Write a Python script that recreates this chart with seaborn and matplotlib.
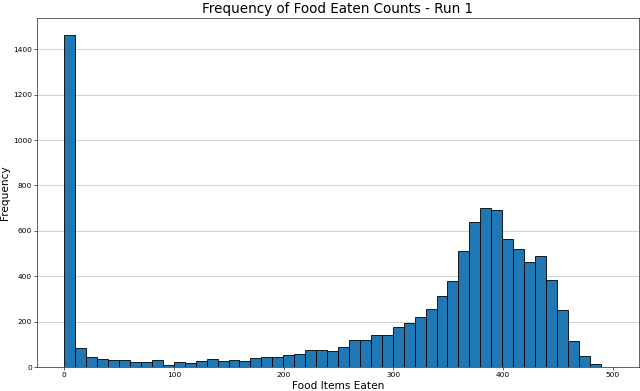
import numpy as np
import pandas as pd
import matplotlib
matplotlib.use("Agg")
import matplotlib.pyplot as plt
import seaborn as sns

# Histogram counts per bin (50 equal-width bins from 0 to ~499)
bin_min = 0.0
bin_max = 499.0
n_bins = 50
counts = [1465, 84, 46, 37, 32, 29, 20, 23, 32, 11,
          23, 18, 26, 35, 26, 31, 25, 39, 42, 45,
          55, 57, 73, 77, 72, 86, 121, 121, 139, 143,
          178, 194, 222, 256, 314, 381, 512, 638, 699, 690,
          563, 521, 464, 490, 384, 253, 115, 47, 12, 2]

title = "Frequency of Food Eaten Counts - Run 1"
xlabel = "Food Items Eaten"
ylabel = "Frequency"
xticks = [0, 100, 200, 300, 400, 500]
yticks = [0, 200, 400, 600, 800, 1000, 1200, 1400]

edges = np.linspace(bin_min, bin_max, n_bins + 1)
centers = (edges[:-1] + edges[1:]) / 2
df = pd.DataFrame({"food": centers, "count": counts})

s = 0.54
fig = plt.figure(figsize=(6.4, 3.91), dpi=100)
ax = fig.add_axes([37 / 640, 1 - 367 / 391, (639 - 37) / 640, (367 - 18) / 391])

sns.histplot(data=df, x="food", weights="count", bins=n_bins,
             binrange=(bin_min, bin_max), ax=ax,
             color="#1f77b4", alpha=1.0, edgecolor="black", linewidth=0.6,
             stat="count")

ax.set_xlim(-0.05 * bin_max, 1.05 * bin_max)
ax.set_ylim(0, 1.05 * max(counts))
ax.set_xticks(xticks)
ax.set_yticks(yticks)
ax.grid(axis="y", color="#b0b0b0", linewidth=0.8 * s * 1.2, alpha=0.8)
ax.set_axisbelow(True)
ax.tick_params(labelsize=10 * s, length=3.5 * s, width=0.8 * s, pad=3.5 * s)
for sp in ax.spines.values():
    sp.set_linewidth(0.8 * s)
ax.set_title(title, fontsize=18 * s, pad=6 * s)
ax.set_xlabel(xlabel, fontsize=14 * s, labelpad=4 * s)
ax.set_ylabel(ylabel, fontsize=14 * s, labelpad=4 * s)

fig.savefig("out.png", dpi=100)
